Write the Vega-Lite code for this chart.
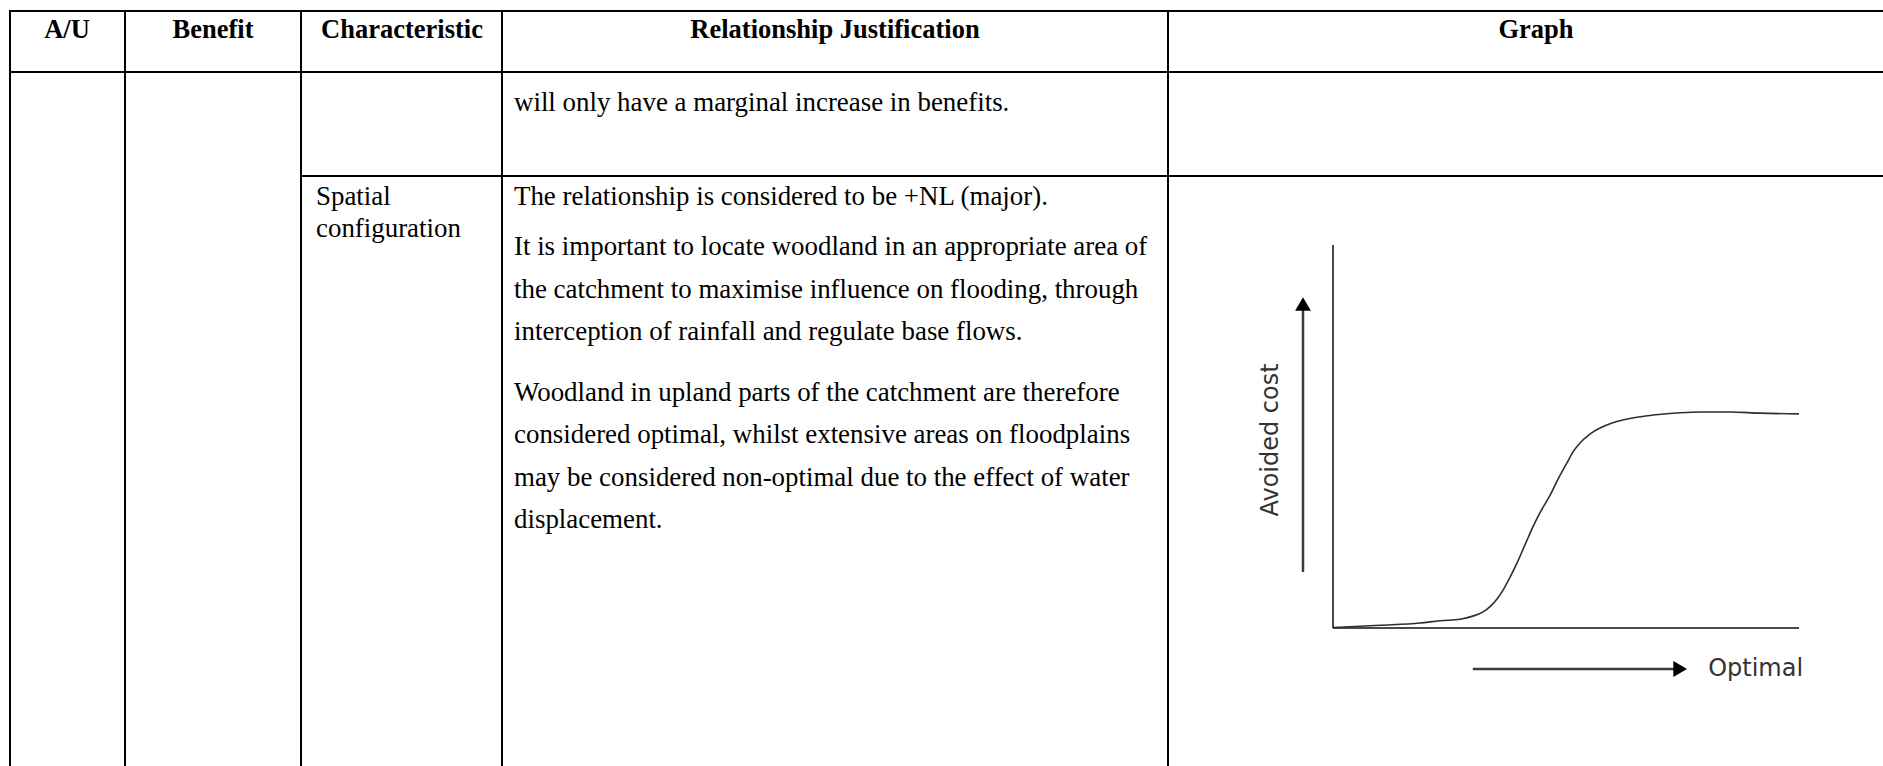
{
  "$schema": "https://vega.github.io/schema/vega-lite/v6.json",
  "width": 1883,
  "height": 766,
  "padding": 0,
  "autosize": {"type": "fit", "contains": "padding"},
  "background": "white",
  "config": {"view": {"stroke": null}},
  "resolve": {"scale": {"x": "independent", "y": "independent"}},
  "layer": [
    {
      "encoding": {
        "x": {"field": "x", "type": "quantitative", "axis": null, "scale": {"domain": [0, 1883], "range": [0, 1883], "nice": false, "zero": false}},
        "y": {"field": "y", "type": "quantitative", "axis": null, "scale": {"domain": [0, 766], "range": [0, 766], "nice": false, "zero": false}}
      },
      "layer": [
        {
          "data": {"values": [
            {"x": 9, "y": 11, "x2": 1883, "y2": 11},
            {"x": 9, "y": 72, "x2": 1883, "y2": 72},
            {"x": 301, "y": 176, "x2": 1883, "y2": 176},
            {"x": 10, "y": 10, "x2": 10, "y2": 766},
            {"x": 125, "y": 10, "x2": 125, "y2": 766},
            {"x": 301, "y": 10, "x2": 301, "y2": 766},
            {"x": 502, "y": 10, "x2": 502, "y2": 766},
            {"x": 1168, "y": 10, "x2": 1168, "y2": 766}
          ]},
          "mark": {"type": "rule", "color": "black", "strokeWidth": 2},
          "encoding": {
            "x2": {"field": "x2"},
            "y2": {"field": "y2"}
          }
        },
        {
          "data": {"values": [
            {"x": 67, "y": 37.5, "t": "A/U"},
            {"x": 213, "y": 37.5, "t": "Benefit"},
            {"x": 402, "y": 37.5, "t": "Characteristic"},
            {"x": 835, "y": 37.5, "t": "Relationship Justification"},
            {"x": 1536, "y": 37.5, "t": "Graph"}
          ]},
          "mark": {"type": "text", "font": "Liberation Serif", "fontWeight": "bold", "fontSize": 26.5, "align": "center", "baseline": "alphabetic", "color": "black"},
          "encoding": {"text": {"field": "t"}}
        },
        {
          "data": {"values": [
            {"x": 514, "y": 110.5, "t": "will only have a marginal increase in benefits."},
            {"x": 316, "y": 205, "t": "Spatial"},
            {"x": 316, "y": 237, "t": "configuration"},
            {"x": 514, "y": 205, "t": "The relationship is considered to be +NL (major)."},
            {"x": 514, "y": 254.5, "t": "It is important to locate woodland in an appropriate area of"},
            {"x": 514, "y": 297.5, "t": "the catchment to maximise influence on flooding, through"},
            {"x": 514, "y": 339.5, "t": "interception of rainfall and regulate base flows."},
            {"x": 514, "y": 400.5, "t": "Woodland in upland parts of the catchment are therefore"},
            {"x": 514, "y": 442.5, "t": "considered optimal, whilst extensive areas on floodplains"},
            {"x": 514, "y": 485.5, "t": "may be considered non-optimal due to the effect of water"},
            {"x": 514, "y": 527.5, "t": "displacement."}
          ]},
          "mark": {"type": "text", "font": "Liberation Serif", "fontSize": 26.9, "align": "left", "baseline": "alphabetic", "color": "black"},
          "encoding": {"text": {"field": "t"}}
        }
      ]
    },
    {
      "encoding": {
        "x": {"field": "gx", "type": "quantitative", "axis": null, "scale": {"domain": [0, 100], "range": [1333, 1799], "nice": false, "zero": false}},
        "y": {"field": "gy", "type": "quantitative", "axis": null, "scale": {"domain": [0, 100], "range": [628, 245], "nice": false, "zero": false}}
      },
      "layer": [
        {
          "data": {"values": [
            {"gx": 0, "gy": 0, "gx2": 0, "gy2": 100, "part": "y axis"},
            {"gx": 0, "gy": 0, "gx2": 100, "gy2": 0, "part": "x axis"}
          ]},
          "mark": {"type": "rule", "color": "#4a4a4a", "strokeWidth": 2},
          "encoding": {"x2": {"field": "gx2"}, "y2": {"field": "gy2"}}
        },
        {
          "data": {"values": [
            {"gx": -6.44, "gy": 14.6, "gx2": -6.44, "gy2": 83, "part": "cost arrow"},
            {"gx": 30.0, "gy": -10.7, "gx2": 74, "gy2": -10.7, "part": "optimal arrow"}
          ]},
          "mark": {"type": "rule", "color": "#3a3a3a", "strokeWidth": 2.5},
          "encoding": {"x2": {"field": "gx2"}, "y2": {"field": "gy2"}}
        },
        {
          "data": {"values": [
            {"gx": -6.44, "gy": 84.6, "dir": "triangle-up"},
            {"gx": 74.5, "gy": -10.7, "dir": "triangle-right"}
          ]},
          "mark": {"type": "point", "filled": true, "color": "black", "opacity": 1, "size": 250},
          "encoding": {"shape": {"field": "dir", "type": "nominal", "scale": null, "legend": null}}
        },
        {
          "data": {"values": [
            {"gx": 0, "gy": 0.1},
            {"gx": 10.1, "gy": 0.7},
            {"gx": 18.7, "gy": 1.3},
            {"gx": 23.0, "gy": 1.9},
            {"gx": 27.3, "gy": 2.3},
            {"gx": 30.0, "gy": 3.1},
            {"gx": 32.2, "gy": 4.2},
            {"gx": 33.7, "gy": 5.6},
            {"gx": 35.2, "gy": 7.6},
            {"gx": 36.5, "gy": 9.9},
            {"gx": 38.0, "gy": 13.3},
            {"gx": 39.5, "gy": 17.0},
            {"gx": 41.2, "gy": 21.7},
            {"gx": 42.9, "gy": 26.4},
            {"gx": 44.6, "gy": 30.5},
            {"gx": 46.6, "gy": 34.7},
            {"gx": 48.3, "gy": 38.9},
            {"gx": 50.2, "gy": 43.1},
            {"gx": 51.5, "gy": 46.0},
            {"gx": 53.0, "gy": 48.3},
            {"gx": 55.2, "gy": 50.7},
            {"gx": 57.3, "gy": 52.2},
            {"gx": 59.9, "gy": 53.5},
            {"gx": 62.2, "gy": 54.3},
            {"gx": 65.5, "gy": 55.1},
            {"gx": 68.7, "gy": 55.6},
            {"gx": 74.5, "gy": 56.2},
            {"gx": 78.8, "gy": 56.4},
            {"gx": 85.2, "gy": 56.4},
            {"gx": 91.6, "gy": 56.1},
            {"gx": 100, "gy": 55.9}
          ]},
          "mark": {"type": "line", "color": "#2e2e2e", "strokeWidth": 1.6, "interpolate": "monotone"},
          "encoding": {"order": {"field": "gx", "type": "quantitative"}}
        },
        {
          "data": {"values": [
            {"gx": 80.5, "gy": -12.5, "t": "Optimal"}
          ]},
          "mark": {"type": "text", "font": "DejaVu Sans", "fontSize": 24, "align": "left", "baseline": "alphabetic", "color": "#333333"},
          "encoding": {"text": {"field": "t"}}
        },
        {
          "data": {"values": [
            {"gx": -11.8, "gy": 49.1, "t": "Avoided cost"}
          ]},
          "mark": {"type": "text", "font": "DejaVu Sans", "fontSize": 24, "align": "center", "baseline": "alphabetic", "angle": 270, "color": "#333333"},
          "encoding": {"text": {"field": "t"}}
        }
      ]
    }
  ]
}
